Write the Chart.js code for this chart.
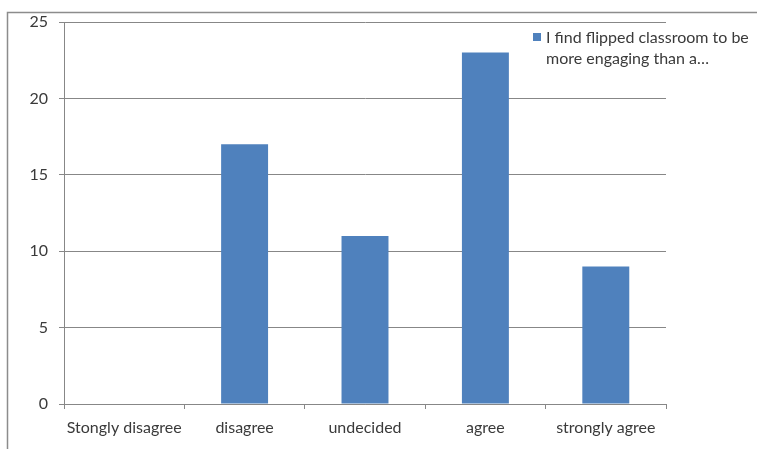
<!DOCTYPE html>
<html>
<head>
<meta charset="utf-8">
<script src="https://cdn.jsdelivr.net/npm/chart.js@4.4.1/dist/chart.umd.min.js"></script>
<style>
  html, body { margin: 0; padding: 0; background: #ffffff; }
  #wrap { position: relative; width: 757px; height: 449px; }
</style>
</head>
<body>
<div id="wrap"><canvas id="c" width="757" height="449"></canvas></div>
<script>
// Survey responses per answer option
const categories = ['Stongly disagree', 'disagree', 'undecided', 'agree', 'strongly agree'];
const responses = [0, 17, 11, 23, 9];
const seriesName = 'I find flipped classroom to be more engaging than a\u2026';
const legendLines = ['I find flipped classroom to be', 'more engaging than a\u2026'];
const yTicks = [0, 5, 10, 15, 20, 25];

const FONT = 'Lato, "Open Sans", sans-serif';
const BAR = '#4F81BD';
const GRID = '#878787';
const TEXT = '#3a3a3a';

// Frame around the chart and the wrapped legend entry on the right
const decorations = {
  id: 'decorations',
  afterDraw(chart) {
    const ctx = chart.ctx;
    ctx.save();
    ctx.strokeStyle = '#8c8c8c';
    ctx.lineWidth = 1.5;
    ctx.beginPath();
    ctx.moveTo(7.5, 449);
    ctx.lineTo(7.5, 12.5);
    ctx.lineTo(757, 12.5);
    ctx.stroke();

    const ds = chart.data.datasets[0];
    ctx.fillStyle = ds.backgroundColor;
    ctx.fillRect(533, 33, 8, 8);
    ctx.fillStyle = TEXT;
    ctx.font = '16px ' + FONT;
    ctx.textBaseline = 'middle';
    ctx.textAlign = 'left';
    legendLines.forEach((t, i) => ctx.fillText(t, 546, 38 + i * 21));
    ctx.restore();
  }
};

new Chart(document.getElementById('c'), {
  type: 'bar',
  data: {
    labels: categories,
    datasets: [{
      label: seriesName,
      data: responses,
      backgroundColor: BAR,
      borderWidth: 0,
      categoryPercentage: 1.0,
      barPercentage: 0.39
    }]
  },
  options: {
    responsive: false,
    animation: false,
    events: [],
    layout: { padding: { left: 0, top: 22, right: 91, bottom: 0 } },
    plugins: {
      legend: { display: false },
      tooltip: { enabled: false }
    },
    scales: {
      x: {
        grid: {
          offset: true,
          drawOnChartArea: false,
          drawTicks: true,
          tickLength: 5,
          color: GRID,
          lineWidth: 1
        },
        border: { display: true, color: GRID, width: 1 },
        ticks: {
          color: TEXT,
          font: { family: FONT, size: 16 },
          padding: 9,
          maxRotation: 0,
          autoSkip: false
        },
        afterFit(scale) { scale.height = 45; }
      },
      y: {
        min: 0,
        max: 25,
        afterBuildTicks(scale) { scale.ticks = yTicks.map(v => ({ value: v })); },
        grid: {
          drawTicks: true,
          tickLength: 5,
          color: GRID,
          lineWidth: 1
        },
        border: { display: true, color: GRID, width: 1 },
        ticks: {
          color: TEXT,
          font: { family: FONT, size: 16 },
          padding: 11
        },
        afterFit(scale) { scale.width = 64; }
      }
    }
  },
  plugins: [decorations]
});
</script>
</body>
</html>
